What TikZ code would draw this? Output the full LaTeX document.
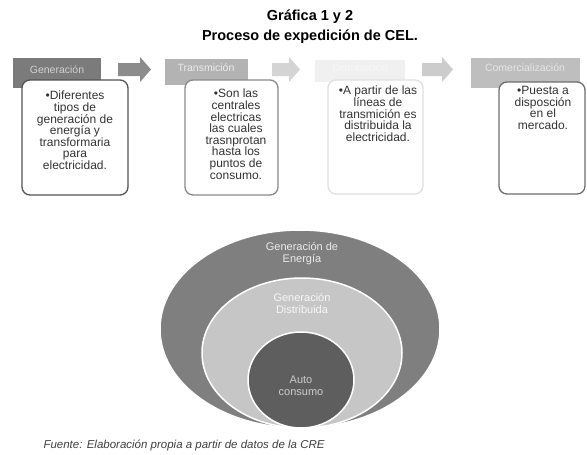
\documentclass[tikz,border=0pt]{standalone}
\usepackage{fontspec}
\setmainfont{Liberation Sans}
\usetikzlibrary{calc}
\definecolor{hdrone}{HTML}{7B7B7B}
\definecolor{hdrtwo}{HTML}{B3B3B3}
\definecolor{hdrthree}{HTML}{F0F0F0}
\definecolor{hdrfour}{HTML}{BEBEBE}
\definecolor{elipseext}{HTML}{7F7F7F}
\definecolor{elipsemed}{HTML}{C6C6C6}
\definecolor{elipseint}{HTML}{5E5E5E}
\def\flecha[#1](#2,#3,#4){\fill[#1] (#2,#3-6.5) -- (#2+#4-11,#3-6.5) -- (#2+#4-11,#3-12.5) -- (#2+#4,#3) -- (#2+#4-11,#3+12.5) -- (#2+#4-11,#3+6.5) -- (#2,#3+6.5) -- cycle;}
\tikzset{
  boxtext/.style={align=center, anchor=north, inner sep=0pt, text=black!80, font=\fontsize{12}{11.6}\selectfont},
  hdrtext/.style={font=\fontsize{10.5}{12}\selectfont},
  caja/.style={rounded corners=8pt, line width=1.3pt, fill=white},
  blob/.style={draw=white, line width=1.5pt},
  blobtext/.style={align=center, font=\fontsize{11}{12}\selectfont},
}

\begin{document}
\begin{tikzpicture}[x=1pt,y=-1pt]
		%%%%% START %%%%%
		\useasboundingbox[fill=white] (0,0) rectangle (587,455);
		
		\node[font=\fontsize{14.5}{20}\selectfont\bfseries, align=center] (titulo) at (310,27) {Gráfica 1 y 2\\Proceso de expedición de CEL.};
		
		% encabezados
		\fill[hdrone] (13,58) rectangle (101,88);
		\node[hdrtext, text=black!18] (gen) at (57,70) {Generación};
		\fill[hdrtwo] (165,59) rectangle (248,85);
		\node[hdrtext, text=black!8] (trans) at (206,68) {Transmición};
		\fill[hdrthree] (315,60) rectangle (405,82);
		\node[hdrtext, text=black!3] (dist) at (360,68) {Distribución};
		\fill[hdrfour] (471,58) rectangle (580,88);
		\node[hdrtext, text=black!10] (comer) at (525,68) {Comercialización};
		
		% flechas
		\flecha[black!45](118,69.5,33)
		\flecha[black!17](272,69.5,28)
		\flecha[black!20](422,69.5,31)
		
		% cajas
		\draw[caja, draw=black!67] (22,80) rectangle (128,195);
		\node[boxtext] (txtgen) at (75,91) {•Diferentes\\tipos de\\generación de\\energía y\\transformaria\\para\\electricidad.};
		\draw[caja, draw=black!46] (185,80) rectangle (278,195);
		\node[boxtext] (txttrans) at (236,89) {•Son las\\centrales\\electricas\\las cuales\\trasnprotan\\hasta los\\puntos de\\consumo.};
		\draw[caja, draw=black!12] (328,80) rectangle (423,194);
		\node[boxtext] (txtdist) at (378,86) {•A partir de las\\líneas de\\transmición es\\distribuida la\\electricidad.};
		\draw[caja, draw=black!57] (499,82) rectangle (585,194);
		\node[boxtext] (txtcomer) at (543,86) {•Puesta a\\disposción\\en el\\mercado.};
		
		% elipses
		\draw[blob, fill=elipseext] (300,329) ellipse [x radius=140pt, y radius=99pt];
		\draw[blob, fill=elipsemed] (302,353) ellipse [x radius=100pt, y radius=75pt];
		\draw[blob, fill=elipseint] (301,380) ellipse [x radius=53pt, y radius=48pt];
		\node[blobtext, text=black!8] (energia) at (302,254) {Generación de\\Energía};
		\node[blobtext, text=black!3] (distribuida) at (302,304) {Generación\\Distribuida};
		\node[blobtext, text=black!20] (auto) at (301,386) {Auto\\consumo};
		
		\node[anchor=west, font=\fontsize{11.5}{12}\selectfont\itshape, text=black!75] (fuente) at (40,445) {Fuente: Elaboración propia a partir de datos de la CRE};
		%%%%% END %%%%%
	\end{tikzpicture}
\end{document}
